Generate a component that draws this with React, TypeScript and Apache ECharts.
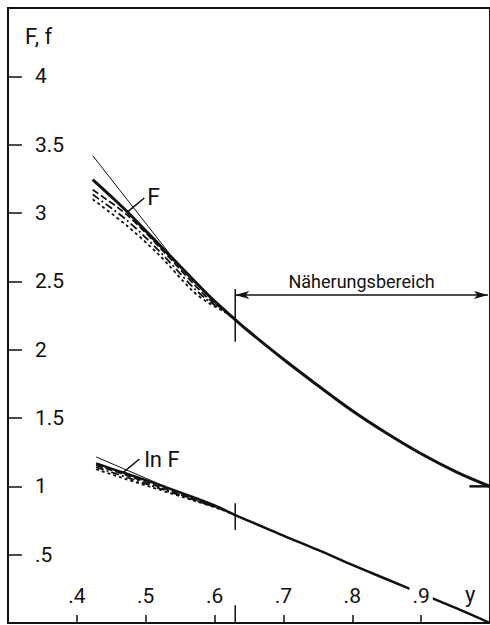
import React, { useEffect, useRef } from "react";
import * as echarts from "echarts";

// ---- axis ticks / labels ----
const xTickValues = [0.4, 0.5, 0.6, 0.7, 0.8, 0.9];
const xTickLabels = [".4", ".5", ".6", ".7", ".8", ".9"];
const yTickValues = [0.5, 1, 1.5, 2, 2.5, 3, 3.5, 4];
const yTickLabels = [".5", "1", "1.5", "2", "2.5", "3", "3.5", "4"];

// ---- F (exact, thick) ----
const fX = [0.423, 0.45, 0.475, 0.5, 0.525, 0.55, 0.575, 0.6, 0.63, 0.65, 0.7, 0.75, 0.8, 0.85, 0.9, 0.95, 1.0];
const fExact = [3.245, 3.12, 3.0, 2.87, 2.74, 2.61, 2.48, 2.355, 2.22, 2.133, 1.93, 1.738, 1.553, 1.388, 1.238, 1.108, 1.0];
// thin straight approximation
const fTanX = [0.423, 0.535];
const fTan = [3.42, 2.70];
// dashed approximations
const fApproxX = [0.423, 0.472, 0.52, 0.568, 0.592, 0.615, 0.63];
const fApproxA = [3.17, 2.99, 2.75, 2.49, 2.37, 2.285, 2.22];
const fApproxB = [3.135, 2.95, 2.72, 2.46, 2.355, 2.28, 2.22];
const fApproxC = [3.10, 2.91, 2.69, 2.43, 2.34, 2.275, 2.22];

// ---- ln F ----
const lnX = [0.428, 0.45, 0.5, 0.55, 0.6, 0.63, 0.7, 0.75, 0.8, 0.85, 0.9, 0.95, 1.0];
const lnExact = [1.168, 1.13, 1.045, 0.955, 0.86, 0.79, 0.64, 0.535, 0.425, 0.32, 0.215, 0.11, 0.0];
const lnTanX = [0.428, 0.53];
const lnTan = [1.215, 0.995];
const lnApproxX = [0.428, 0.47, 0.52, 0.57, 0.61, 0.63];
const lnApproxA = [1.155, 1.085, 0.995, 0.905, 0.835, 0.79];
const lnApproxB = [1.14, 1.07, 0.985, 0.9, 0.832, 0.79];
const lnApproxC = [1.125, 1.055, 0.975, 0.895, 0.83, 0.79];

// ---- markers / annotations ----
const boundaryY = 0.63;
const fMarker = [2.444, 2.058];
const lnMarker = [0.876, 0.68];
const axisMarker = [0, 0.13];
const endMarkX = [0.97, 1.0];
const endMarkY = [1.0, 1.0];
const rangeArrowY = 2.4;
const rangeArrowX = [0.63, 0.997];
const rangeLabel = "Näherungsbereich";
const fLeaderX = [0.474, 0.498];
const fLeaderY = [3.01, 3.11];
const lnLeaderX = [0.467, 0.491];
const lnLeaderY = [1.1, 1.2];

const INK = "#111";
const FONT = "Roboto, 'Noto Sans', sans-serif";

const pairs = (xs: number[], ys: number[]) => xs.map((x, i) => [x, ys[i]]);

const line = (name: string, xs: number[], ys: number[], width: number, type: any = "solid", smooth: any = false, extra: any = {}) => ({
  name,
  type: "line",
  data: pairs(xs, ys),
  showSymbol: false,
  symbol: "none",
  smooth,
  silent: true,
  lineStyle: { color: INK, width, type, cap: "butt" },
  emphasis: { disabled: true },
  ...extra,
});

const findLabel = (v: number, vals: number[], labels: string[]) => {
  const i = vals.findIndex((t) => Math.abs(t - v) < 1e-6);
  return i >= 0 ? labels[i] : "";
};

export default function App() {
  const ref = useRef<HTMLDivElement>(null);
  useEffect(() => {
    if (!ref.current) return;
    const chart = echarts.init(ref.current, undefined, { renderer: "svg" });
    const option: any = {
      animation: false,
      backgroundColor: "#fff",
      textStyle: { fontFamily: FONT, color: INK },
      grid: { left: 8, top: 8, width: 484, height: 615, show: true, borderColor: INK, borderWidth: 2 },
      xAxis: {
        type: "value",
        min: 0.3,
        max: 1.0,
        z: 5,
        axisLine: { show: true, onZero: false, lineStyle: { color: INK, width: 2 } },
        axisTick: { show: true, inside: true, length: 8, customValues: xTickValues, lineStyle: { color: INK, width: 1.5 } },
        axisLabel: {
          show: true,
          inside: true,
          margin: 17,
          customValues: xTickValues,
          formatter: (v: number) => findLabel(v, xTickValues, xTickLabels),
          fontSize: 21,
          fontFamily: FONT,
          color: INK,
          backgroundColor: "#fff",
          padding: [0, 3],
        },
        splitLine: { show: false },
      },
      yAxis: {
        type: "value",
        min: 0,
        max: 4.5,
        interval: 0.5,
        axisLine: { show: true, onZero: false, lineStyle: { color: INK, width: 2 } },
        axisTick: { show: true, inside: true, length: 14, lineStyle: { color: INK, width: 1.5 } },
        axisLabel: {
          show: true,
          inside: true,
          margin: 27,
          formatter: (v: number) => findLabel(v, yTickValues, yTickLabels),
          fontSize: 21,
          fontFamily: FONT,
          color: INK,
        },
        splitLine: { show: false },
      },
      graphic: [
        { type: "text", left: 25, top: 25, style: { text: "F, f", font: `22px ${FONT}`, fill: INK } },
        { type: "text", left: 465, top: 583, style: { text: "y", font: `22px ${FONT}`, fill: INK } },
      ],
      series: [
        line("F approx A", fApproxX, fApproxA, 1.8, [7, 3], 0.3),
        line("F approx B", fApproxX, fApproxB, 1.8, [8, 3, 2, 3], 0.3),
        line("F approx C", fApproxX, fApproxC, 1.8, [3, 3], 0.3),
        line("F tangent", fTanX, fTan, 1),
        line("F", fX, fExact, 3, "solid", 0.4),
        line("ln F approx A", lnApproxX, lnApproxA, 1.8, [7, 3], 0.3),
        line("ln F approx B", lnApproxX, lnApproxB, 1.8, [8, 3, 2, 3], 0.3),
        line("ln F approx C", lnApproxX, lnApproxC, 1.8, [3, 3], 0.3),
        line("ln F tangent", lnTanX, lnTan, 1),
        line("ln F", lnX, lnExact, 2.5, "solid", 0.4),
        line("F marker", [boundaryY, boundaryY], fMarker, 1.5),
        line("ln F marker", [boundaryY, boundaryY], lnMarker, 1.5),
        line("axis marker", [boundaryY, boundaryY], axisMarker, 1.5),
        line("end marker", endMarkX, endMarkY, 2.5, "solid", false, {
          markLine: {
            silent: true,
            symbol: ["arrow", "arrow"],
            symbolSize: [6, 14],
            lineStyle: { color: INK, width: 1.5, type: "solid" },
            label: {
              show: true,
              position: "insideMiddleTop",
              formatter: rangeLabel,
              fontSize: 18,
              fontFamily: FONT,
              color: INK,
              distance: 5,
            },
            emphasis: { disabled: true },
            data: [[{ coord: [rangeArrowX[0], rangeArrowY] }, { coord: [rangeArrowX[1], rangeArrowY] }]],
          },
        }),
        line("F label", fLeaderX, fLeaderY, 1.5, "solid", false, {
          endLabel: { show: true, formatter: "F", fontSize: 23, fontFamily: FONT, color: INK, distance: 3 },
        }),
        line("ln F label", lnLeaderX, lnLeaderY, 1.5, "solid", false, {
          endLabel: { show: true, formatter: "ln F", fontSize: 22, fontFamily: FONT, color: INK, distance: 5 },
        }),
      ],
    };
    chart.setOption(option);
    return () => chart.dispose();
  }, []);
  return (
    <div
      ref={ref}
      style={{ position: "fixed", left: 0, top: 0, width: 490, height: 625, background: "#fff" }}
    />
  );
}
